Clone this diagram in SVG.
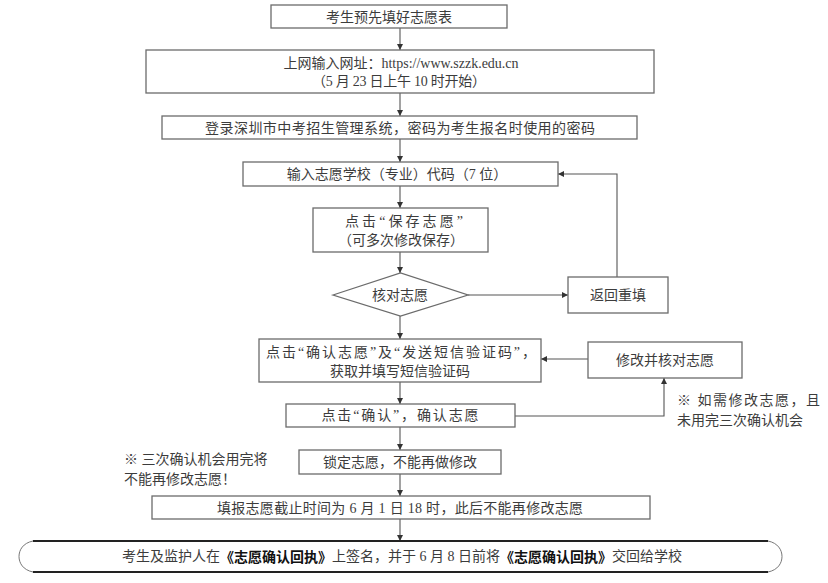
<svg xmlns="http://www.w3.org/2000/svg" width="828" height="583" viewBox="0 0 828 583">
<defs>
<marker id="ah" markerUnits="userSpaceOnUse" markerWidth="7" markerHeight="6" refX="6" refY="3" orient="auto">
<path d="M0,0 L6,3 L0,6 z" fill="#333"/>
</marker>
<style>
.box{fill:#fff;stroke:#6b6b6b;stroke-width:1.3}
.t{font-family:"Liberation Serif","Noto Sans CJK SC",serif;font-size:14px;fill:#3c3c3c;text-anchor:middle;dominant-baseline:central}
.n{font-family:"Liberation Serif","Noto Sans CJK SC",serif;font-size:14px;fill:#3c3c3c;dominant-baseline:central}
.c{fill:none;stroke:#555;stroke-width:1.1}
.ca{fill:none;stroke:#555;stroke-width:1.1;marker-end:url(#ah)}
.b{font-family:"Noto Sans CJK SC",sans-serif;font-weight:bold;fill:#111}
</style>
</defs>
<rect width="828" height="583" fill="#fff"/>

<g id="connectors">
<line class="ca" x1="400" y1="28" x2="400" y2="50"/>
<line class="ca" x1="400" y1="93" x2="400" y2="116"/>
<line class="ca" x1="400" y1="139" x2="400" y2="162"/>
<line class="ca" x1="400" y1="186" x2="400" y2="208"/>
<line class="ca" x1="400" y1="252" x2="400" y2="273"/>
<line class="ca" x1="468" y1="295" x2="568" y2="295"/>
<polyline class="ca" points="617,277 617,174 558,174"/>
<line class="ca" x1="400" y1="316" x2="400" y2="339"/>
<line class="ca" x1="588" y1="359" x2="541" y2="359"/>
<line class="ca" x1="400" y1="382" x2="400" y2="404"/>
<polyline class="ca" points="515,416 664,416 664,378"/>
<line class="ca" x1="400" y1="427" x2="400" y2="450"/>
<line class="ca" x1="400" y1="474" x2="400" y2="496"/>
<line class="ca" x1="400" y1="519" x2="400" y2="541"/>
</g>

<g id="n1">
<rect class="box" x="271" y="5" width="236" height="23"/>
<text class="t" x="389" y="17">考生预先填好志愿表</text>
</g>

<g id="n2">
<rect class="box" x="146" y="50" width="508" height="43"/>
<text class="t" x="401" y="63">上网输入网址：https://www.szzk.edu.cn</text>
<text class="t" x="399" y="81" textLength="174" lengthAdjust="spacing">（5 月 23 日上午 10 时开始）</text>
</g>

<g id="n3">
<rect class="box" x="162" y="116" width="475" height="23"/>
<text class="t" x="400" y="128" textLength="390" lengthAdjust="spacing">登录深圳市中考招生管理系统，密码为考生报名时使用的密码</text>
</g>

<g id="n4">
<rect class="box" x="243" y="162" width="315" height="24"/>
<text class="t" x="397" y="174">输入志愿学校（专业）代码（7 位）</text>
</g>

<g id="n5">
<rect class="box" x="313" y="208" width="175" height="44"/>
<text class="t" x="404" y="221" textLength="118" lengthAdjust="spacing">点击“保存志愿”</text>
<text class="t" x="401" y="240">（可多次修改保存）</text>
</g>

<g id="n6">
<polygon class="box" points="333,295 400.5,273 468,295 400.5,316"/>
<text class="t" x="400" y="295">核对志愿</text>
</g>

<g id="n7">
<rect class="box" x="568" y="277" width="100" height="36"/>
<text class="t" x="618" y="295">返回重填</text>
</g>

<g id="n8">
<rect class="box" x="259" y="339" width="282" height="43"/>
<text class="t" x="401" y="352" textLength="270" lengthAdjust="spacing">点击“确认志愿”及“发送短信验证码”，</text>
<text class="t" x="400" y="371">获取并填写短信验证码</text>
</g>

<g id="n9">
<rect class="box" x="588" y="342" width="154" height="36"/>
<text class="t" x="665" y="360">修改并核对志愿</text>
</g>

<g id="n10">
<rect class="box" x="286" y="404" width="229" height="23"/>
<text class="t" x="400" y="415" textLength="157" lengthAdjust="spacing">点击“确认”，确认志愿</text>
</g>

<g id="note1">
<text class="n" x="677" y="400" textLength="143" lengthAdjust="spacing">※ 如需修改志愿，且</text>
<text class="n" x="677" y="420">未用完三次确认机会</text>
</g>

<g id="n11">
<rect class="box" x="299" y="450" width="202" height="24"/>
<text class="t" x="400" y="462">锁定志愿，不能再做修改</text>
</g>

<g id="note2">
<text class="n" x="124" y="459">※ 三次确认机会用完将</text>
<text class="n" x="124" y="479">不能再修改志愿！</text>
</g>

<g id="n12">
<rect class="box" x="152" y="496" width="498" height="23"/>
<text class="t" x="400" y="508" textLength="366" lengthAdjust="spacing">填报志愿截止时间为 6 月 1 日 18 时，此后不能再修改志愿</text>
</g>

<g id="n13">
<line x1="33" y1="541" x2="768" y2="541" stroke="#222" stroke-width="2"/>
<line x1="33" y1="572" x2="768" y2="572" stroke="#222" stroke-width="2"/>
<path d="M33,541 C23,543 19,550 19,556.5 C19,563 23,570 33,572" fill="none" stroke="#777" stroke-width="1"/>
<path d="M768,541 C778,543 782,550 782,556.5 C782,563 778,570 768,572" fill="none" stroke="#777" stroke-width="1"/>
<text class="t" x="402" y="556">考生及监护人在<tspan class="b">《志愿确认回执》</tspan>上签名，并于 6 月 8 日前将<tspan class="b">《志愿确认回执》</tspan>交回给学校</text>
</g>
</svg>
